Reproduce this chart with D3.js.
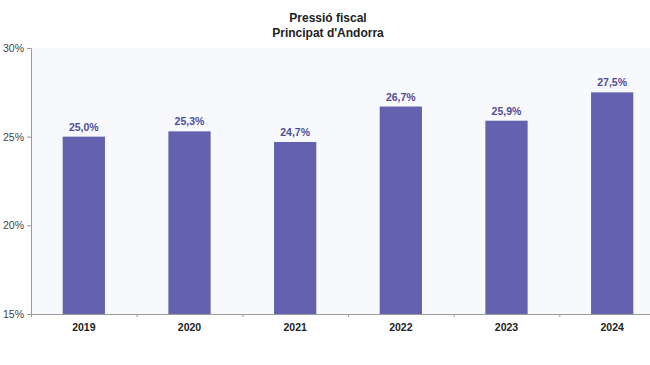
<!DOCTYPE html>
<html><head><meta charset="utf-8">
<script src="https://cdn.jsdelivr.net/npm/d3@7"></script>
<style>
html,body{margin:0;padding:0;background:#fff;}
svg{display:block;font-family:"Liberation Sans Narrow","Liberation Sans",Arial,sans-serif;}
</style></head><body>
<svg id="c" width="650" height="365"></svg>
<script>
const years = ["2019","2020","2021","2022","2023","2024"];
const values = [25.0, 25.3, 24.7, 26.7, 25.9, 27.5];
const yTicks = [15, 20, 25, 30];
const titleLines = ["Pressió fiscal", "Principat d'Andorra"];

const svg = d3.select("#c");
const mLeft = 31, mRight = 665, mTop = 48, mBottom = 314;

const x = d3.scaleBand().domain(years).range([mLeft, mRight]).paddingInner(0.6).paddingOuter(0.3);
const y = d3.scaleLinear().domain([15, 30]).range([mBottom, mTop]);

svg.append("rect").attr("x", mLeft).attr("y", mTop).attr("width", mRight - mLeft).attr("height", mBottom - mTop).attr("fill", "#f8f9fc");

svg.selectAll("rect.bar").data(values).enter().append("rect").attr("class","bar")
  .attr("x", (d,i) => x(years[i]))
  .attr("width", x.bandwidth())
  .attr("y", d => y(d))
  .attr("height", d => mBottom - y(d))
  .attr("fill", "#6462ae");

svg.selectAll("text.lbl").data(values).enter().append("text").attr("class","lbl")
  .attr("x", (d,i) => x(years[i]) + x.bandwidth()/2)
  .attr("y", d => y(d) - 6)
  .attr("text-anchor","middle")
  .attr("font-size", 10.5).attr("font-weight","bold").attr("fill","#4f4d98")
  .text(d => d.toFixed(1).replace(".", ",") + "%");

// y axis
const ya = svg.append("g").attr("transform", `translate(${mLeft},0)`)
  .call(d3.axisLeft(y).tickValues(yTicks).tickSize(4).tickFormat(d => d + "%"));
ya.select(".domain").attr("stroke", "#9a9a9a");
ya.selectAll(".tick line").attr("stroke", "#9a9a9a");
ya.selectAll(".tick text").attr("font-size", 10.5).attr("fill", "#444").attr("font-family","inherit").attr("x", -7);

// x axis
const xLin = d3.scaleLinear().domain([0, years.length]).range([mLeft, mRight]);
const xa = svg.append("g").attr("transform", `translate(0,${mBottom})`)
  .call(d3.axisBottom(xLin).tickValues(d3.range(0, years.length + 1)).tickSize(3).tickFormat(""));
xa.select(".domain").attr("stroke", "#9a9a9a");
xa.selectAll(".tick line").attr("stroke", "#9a9a9a");

svg.selectAll("text.yr").data(years).enter().append("text").attr("class","yr")
  .attr("x", d => x(d) + x.bandwidth()/2)
  .attr("y", mBottom + 17)
  .attr("text-anchor","middle")
  .attr("font-size", 10.5).attr("font-weight","bold").attr("fill","#222")
  .text(d => d);

svg.selectAll("text.ttl").data(titleLines).enter().append("text").attr("class","ttl")
  .attr("x", 328).attr("y", (d,i) => 22 + i * 15)
  .attr("text-anchor","middle")
  .attr("font-size", 12).attr("font-weight","bold").attr("fill","#222")
  .text(d => d);
</script>
</body></html>
